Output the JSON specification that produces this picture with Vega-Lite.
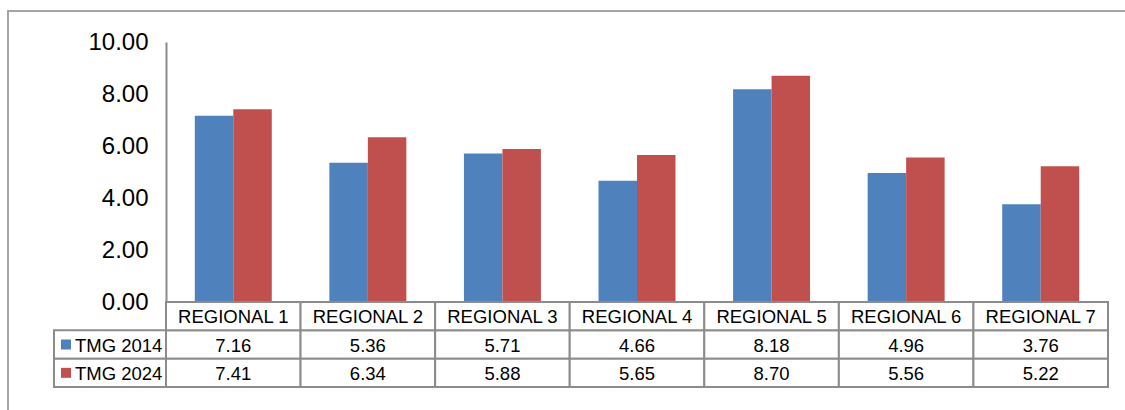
{
  "$schema": "https://vega.github.io/schema/vega-lite/v6.json",
  "width": 1117,
  "height": 399,
  "autosize": {"type": "none"},
  "padding": {"left": 8, "top": 11, "right": 0, "bottom": 0},
  "background": "white",
  "config": {
    "view": {"stroke": "#a6a6a6", "strokeWidth": 2, "strokeDash": [1117, 1516, 399]}
  },
  "data": {
    "values": [
      {"region": "REGIONAL 1", "series": "TMG 2014", "value": 7.16},
      {"region": "REGIONAL 1", "series": "TMG 2024", "value": 7.41},
      {"region": "REGIONAL 2", "series": "TMG 2014", "value": 5.36},
      {"region": "REGIONAL 2", "series": "TMG 2024", "value": 6.34},
      {"region": "REGIONAL 3", "series": "TMG 2014", "value": 5.71},
      {"region": "REGIONAL 3", "series": "TMG 2024", "value": 5.88},
      {"region": "REGIONAL 4", "series": "TMG 2014", "value": 4.66},
      {"region": "REGIONAL 4", "series": "TMG 2024", "value": 5.65},
      {"region": "REGIONAL 5", "series": "TMG 2014", "value": 8.18},
      {"region": "REGIONAL 5", "series": "TMG 2024", "value": 8.70},
      {"region": "REGIONAL 6", "series": "TMG 2014", "value": 4.96},
      {"region": "REGIONAL 6", "series": "TMG 2024", "value": 5.56},
      {"region": "REGIONAL 7", "series": "TMG 2014", "value": 3.76},
      {"region": "REGIONAL 7", "series": "TMG 2024", "value": 5.22}
    ]
  },
  "layer": [
    {
      "mark": {"type": "bar"},
      "encoding": {
        "x": {"field": "region", "type": "nominal", "axis": null,
          "scale": {"domain": ["REGIONAL 1", "REGIONAL 2", "REGIONAL 3", "REGIONAL 4", "REGIONAL 5", "REGIONAL 6", "REGIONAL 7"], "range": [158, 1100], "paddingInner": 0.428, "paddingOuter": 0.214}},
        "xOffset": {"field": "series", "type": "nominal", "scale": {"domain": ["TMG 2014", "TMG 2024"], "paddingInner": 0, "paddingOuter": 0}},
        "y": {"field": "value", "type": "quantitative",
          "scale": {"domain": [0, 10], "range": [291, 31], "nice": false, "zero": true},
          "axis": {"values": [0, 2, 4, 6, 8, 10], "format": ".2f", "offset": -158, "ticks": false, "grid": false, "title": null,
            "labelPadding": 18, "labelFontSize": 24, "labelFont": "Liberation Sans", "labelColor": "#000000",
            "domainColor": "#8c8c8c", "domainWidth": 2}},
        "color": {"field": "series", "type": "nominal", "legend": null,
          "scale": {"domain": ["TMG 2014", "TMG 2024"], "range": ["#4F81BD", "#C0504D"]}}
      }
    },
    {
      "mark": {"type": "rect", "fill": "white", "stroke": "#8c8c8c", "strokeWidth": 2},
      "encoding": {
        "x": {"field": "region", "type": "nominal", "axis": null,
          "scale": {"domain": ["REGIONAL 1", "REGIONAL 2", "REGIONAL 3", "REGIONAL 4", "REGIONAL 5", "REGIONAL 6", "REGIONAL 7"], "range": [158, 1100], "paddingInner": 0, "paddingOuter": 0}},
        "y": {"field": "series", "type": "nominal", "axis": null,
          "scale": {"domain": ["header", "TMG 2014", "TMG 2024"], "range": [291, 376], "paddingInner": 0, "paddingOuter": 0}}
      }
    },
    {
      "transform": [{"filter": "datum.series === 'TMG 2014'"}],
      "mark": {"type": "rect", "fill": "white", "stroke": "#8c8c8c", "strokeWidth": 2},
      "encoding": {
        "x": {"field": "region", "type": "nominal", "axis": null,
          "scale": {"domain": ["REGIONAL 1", "REGIONAL 2", "REGIONAL 3", "REGIONAL 4", "REGIONAL 5", "REGIONAL 6", "REGIONAL 7"], "range": [158, 1100], "paddingInner": 0, "paddingOuter": 0}},
        "y": {"datum": "header", "type": "nominal", "axis": null,
          "scale": {"domain": ["header", "TMG 2014", "TMG 2024"], "range": [291, 376], "paddingInner": 0, "paddingOuter": 0}}
      }
    },
    {
      "mark": {"type": "text", "align": "center", "baseline": "middle", "dy": 1, "font": "Liberation Sans", "fontSize": 18.5, "color": "#000000"},
      "encoding": {
        "x": {"field": "region", "type": "nominal", "axis": null,
          "scale": {"domain": ["REGIONAL 1", "REGIONAL 2", "REGIONAL 3", "REGIONAL 4", "REGIONAL 5", "REGIONAL 6", "REGIONAL 7"], "range": [158, 1100], "paddingInner": 0, "paddingOuter": 0}},
        "y": {"field": "series", "type": "nominal", "axis": null,
          "scale": {"domain": ["header", "TMG 2014", "TMG 2024"], "range": [291, 376], "paddingInner": 0, "paddingOuter": 0}},
        "text": {"field": "value", "type": "quantitative", "format": ".2f"}
      }
    },
    {
      "transform": [{"filter": "datum.series === 'TMG 2014'"}],
      "mark": {"type": "text", "align": "center", "baseline": "middle", "dy": 1, "font": "Liberation Sans", "fontSize": 18.5, "color": "#000000"},
      "encoding": {
        "x": {"field": "region", "type": "nominal", "axis": null,
          "scale": {"domain": ["REGIONAL 1", "REGIONAL 2", "REGIONAL 3", "REGIONAL 4", "REGIONAL 5", "REGIONAL 6", "REGIONAL 7"], "range": [158, 1100], "paddingInner": 0, "paddingOuter": 0}},
        "y": {"datum": "header", "type": "nominal", "axis": null,
          "scale": {"domain": ["header", "TMG 2014", "TMG 2024"], "range": [291, 376], "paddingInner": 0, "paddingOuter": 0}},
        "text": {"field": "region", "type": "nominal"}
      }
    },
    {
      "transform": [{"filter": "datum.region === 'REGIONAL 1'"}],
      "mark": {"type": "rect", "fill": "white", "stroke": "#8c8c8c", "strokeWidth": 2},
      "encoding": {
        "x": {"datum": "lab", "type": "nominal", "axis": null,
          "scale": {"domain": ["lab"], "range": [46, 158], "paddingInner": 0, "paddingOuter": 0}},
        "y": {"field": "series", "type": "nominal", "axis": null,
          "scale": {"domain": ["header", "TMG 2014", "TMG 2024"], "range": [291, 376], "paddingInner": 0, "paddingOuter": 0}}
      }
    },
    {
      "transform": [{"filter": "datum.region === 'REGIONAL 1'"}],
      "mark": {"type": "text", "align": "left", "baseline": "middle", "dx": -35, "dy": 1, "font": "Liberation Sans", "fontSize": 18.5, "color": "#000000"},
      "encoding": {
        "x": {"datum": "lab", "type": "nominal", "axis": null,
          "scale": {"domain": ["lab"], "range": [46, 158], "paddingInner": 0, "paddingOuter": 0}},
        "y": {"field": "series", "type": "nominal", "axis": null,
          "scale": {"domain": ["header", "TMG 2014", "TMG 2024"], "range": [291, 376], "paddingInner": 0, "paddingOuter": 0}},
        "text": {"field": "series", "type": "nominal"}
      }
    },
    {
      "transform": [{"filter": "datum.region === 'REGIONAL 1'"}],
      "mark": {"type": "point", "shape": "square", "filled": true, "opacity": 1, "size": 100, "xOffset": -44},
      "encoding": {
        "x": {"datum": "lab", "type": "nominal", "axis": null,
          "scale": {"domain": ["lab"], "range": [46, 158], "paddingInner": 0, "paddingOuter": 0}},
        "y": {"field": "series", "type": "nominal", "axis": null,
          "scale": {"domain": ["header", "TMG 2014", "TMG 2024"], "range": [291, 376], "paddingInner": 0, "paddingOuter": 0}},
        "color": {"field": "series", "type": "nominal", "legend": null,
          "scale": {"domain": ["TMG 2014", "TMG 2024"], "range": ["#4F81BD", "#C0504D"]}}
      }
    }
  ],
  "resolve": {"scale": {"x": "independent", "y": "independent"}}
}
